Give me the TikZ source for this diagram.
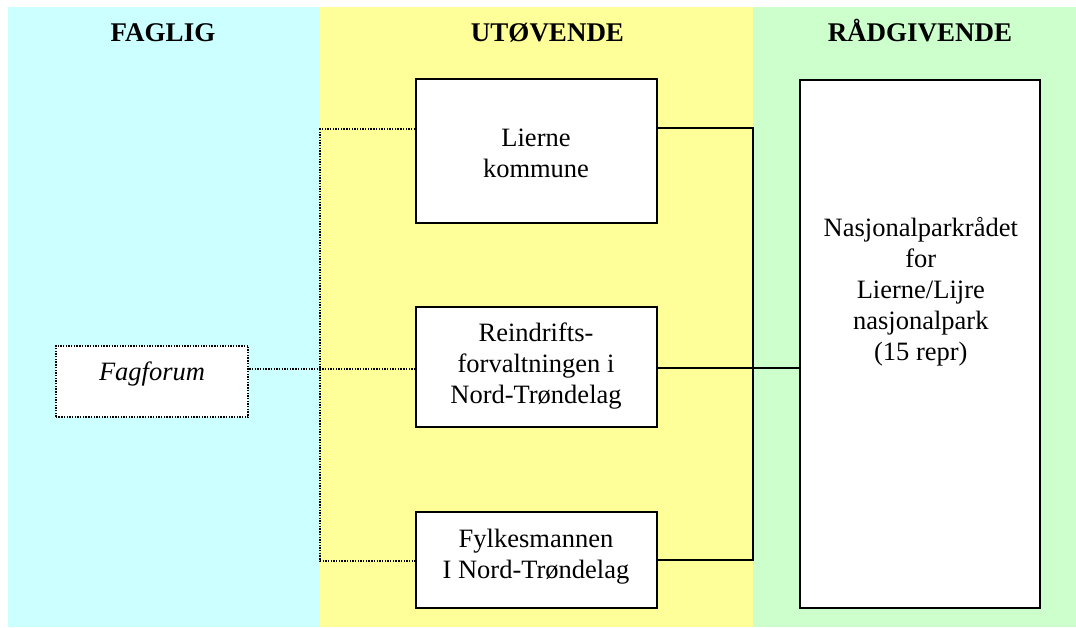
\documentclass[tikz,border=0pt]{standalone}
\usepackage{fontspec}
\setmainfont{Liberation Serif}
\definecolor{cyanbg}{HTML}{CCFFFF}
\definecolor{yellowbg}{HTML}{FFFF99}
\definecolor{greenbg}{HTML}{CCFFCC}
\tikzset{
  head/.style={anchor=base, inner sep=0pt, font=\fontsize{27}{31}\selectfont\bfseries},
  txt/.style={anchor=base, inner sep=0pt, align=center, font=\fontsize{26.5}{31}\selectfont},
  box/.style={draw=black, line width=2pt, fill=white, rectangle, inner sep=0pt},
  dotbox/.style={draw=black, line width=1.8pt, fill=white, rectangle, inner sep=0pt, dash pattern=on 1.4pt off 1.3pt},
  solidline/.style={draw=black, line width=2pt},
  dotline/.style={draw=black, line width=1.8pt, dash pattern=on 1.4pt off 1.3pt}
}
\begin{document}
\begin{tikzpicture}[x=1pt,y=-1pt]
\useasboundingbox (0,0) rectangle (1076,627);
% column backgrounds
\fill[cyanbg] (8,7) rectangle (320,627);
\fill[yellowbg] (320,7) rectangle (753,627);
\fill[greenbg] (753,7) rectangle (1076,627);
% headers
\node[head] (h1) at (163,41.5) {FAGLIG};
\node[head] (h2) at (547.5,41.5) {UTØVENDE};
\node[head] (h3) at (920,41.5) {RÅDGIVENDE};
% boxes
\node[box, minimum width=241pt, minimum height=144pt] (lierne) at (536.5,151) {};
\node[box, minimum width=241pt, minimum height=120pt] (reindrift) at (536.5,366.7) {};
\node[box, minimum width=241pt, minimum height=96pt] (fylkes) at (536.5,559.7) {};
\node[dotbox, minimum width=192.6pt, minimum height=71.6pt] (fagforum) at (152,381.5) {};
\node[box, minimum width=240pt, minimum height=528pt] (nasjon) at (920,344) {};
% texts (anchored at the baseline of the last line)
\node[txt] (tl) at (536,177) {Lierne\\kommune};
\node[txt] (tr) at (536,403.5) {Reindrifts-\\forvaltningen i\\Nord-Trøndelag};
\node[txt] (tf) at (536,578.5) {Fylkesmannen\\I Nord-Trøndelag};
\node[txt, font=\fontsize{26.5}{31}\selectfont\itshape] (tg) at (152,380) {Fagforum};
\node[txt] (tn) at (920.8,360.5) {Nasjonalparkrådet\\for\\Lierne/Lijre\\nasjonalpark\\(15 repr)};
% connector junctions
\coordinate (jtop) at (752.5,128.3);
\coordinate (jbot) at (752.5,560);
\coordinate (dtop) at (320,129.3);
\coordinate (dmid) at (320,369.3);
\coordinate (dbot) at (320,561);
% solid connectors
\draw[solidline] (lierne.east |- jtop) -- (jtop) -- (jbot) -- (fylkes.east |- jbot);
\draw[solidline] (reindrift.east |- 0,368.3) -- (nasjon.west |- 0,368.3);
% dotted connectors
\draw[dotline] (lierne.west |- dtop) -- (dtop) -- (dbot) -- (fylkes.west |- dbot);
\draw[dotline] (fagforum.east |- dmid) -- (dmid) -- (reindrift.west |- dmid);
\end{tikzpicture}
\end{document}
